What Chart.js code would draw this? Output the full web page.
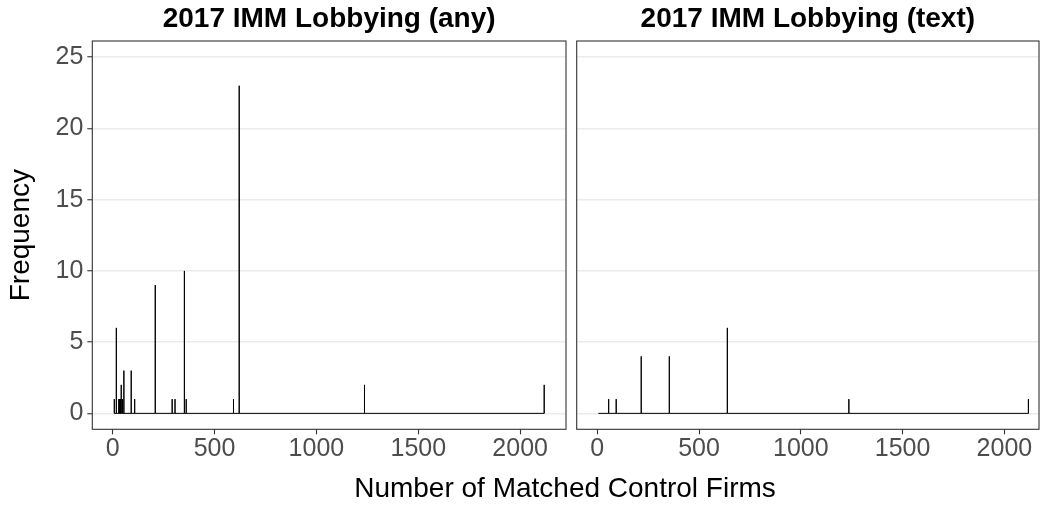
<!DOCTYPE html>
<html><head><meta charset="utf-8">
<script src="https://cdn.jsdelivr.net/npm/chart.js@4.4.0/dist/chart.umd.min.js"></script>
<style>
html,body{margin:0;padding:0;background:#fff;width:1041px;height:508px;overflow:hidden;position:relative;font-family:"Liberation Sans",Arial,sans-serif}
#c1{position:absolute;left:0;top:0}
#c2{position:absolute;left:571px;top:0}
#xt{position:absolute;left:0;width:1130px;top:472px;text-align:center;font-size:28px;line-height:32px;color:#000;white-space:nowrap}
</style></head><body>
<canvas id="c1" width="571" height="508"></canvas>
<canvas id="c2" width="470" height="508"></canvas>
<div id="xt">Number of Matched Control Firms</div>
<script>
// ---- data ----
const panelTitles = ["2017 IMM Lobbying (any)", "2017 IMM Lobbying (text)"];
const anyValues  = [8, 18, 30, 34, 38, 42, 46, 50, 55, 91, 108, 209, 292, 306, 352, 361, 593, 621, 1236, 2118];
const anyCounts  = [1, 6, 1, 1, 1, 2, 1, 1, 3, 3, 1, 9, 1, 1, 10, 1, 1, 23, 2, 2];
const anyRange   = [8, 2118];
const textValues = [56, 93, 216, 354, 639, 1236, 2118];
const textCounts = [1, 1, 4, 4, 6, 1, 1];
const textRange  = [5, 2118];
const xTicks = [0, 500, 1000, 1500, 2000];
const yTicks = [0, 5, 10, 15, 20, 25];
const yTitle = "Frequency";

const FONT = '"Liberation Sans", Arial, Helvetica, sans-serif';

function spikes(vals, counts, range) {
  const pts = [{x: range[0], y: 0}];
  vals.forEach((v, i) => { pts.push({x: v, y: 0}, {x: v, y: counts[i]}, {x: v, y: 0}); });
  pts.push({x: range[1], y: 0});
  return pts;
}

const borderPlugin = {
  id: 'panelBorder',
  afterDraw(chart) {
    const a = chart.chartArea, ctx = chart.ctx;
    ctx.save();
    ctx.strokeStyle = '#333333';
    ctx.lineWidth = 1.1;
    ctx.strokeRect(a.left, a.top, a.right - a.left, a.bottom - a.top);
    ctx.restore();
  }
};

function makeChart(id, title, pts, xmin, xmax, showY, pad) {
  return new Chart(document.getElementById(id), {
    type: 'line',
    data: { datasets: [{ data: pts, borderColor: '#000', borderWidth: 1, pointRadius: 0, tension: 0, fill: false }] },
    options: {
      responsive: false, animation: false,
      layout: { padding: pad },
      plugins: {
        legend: { display: false }, tooltip: { enabled: false },
        title: { display: true, text: title, fullSize: false, color: '#000',
          font: { family: FONT, size: 28, weight: 'bold', lineHeight: 1.2 },
          padding: { top: 2, bottom: 5.4 } }
      },
      scales: {
        x: {
          type: 'linear', min: xmin, max: xmax,
          afterBuildTicks(s) { s.ticks = xTicks.map(v => ({value: v})); },
          afterFit(s) { s.height = 40; },
          border: { display: false },
          grid: { drawOnChartArea: false, drawTicks: true, tickLength: 5, tickColor: '#333', tickWidth: 1.1 },
          ticks: { color: '#4d4d4d', font: { family: FONT, size: 25 }, padding: 0, maxRotation: 0, includeBounds: false,
                   callback: v => String(v) }
        },
        y: {
          type: 'linear', min: -1.12, max: 26.14,
          afterBuildTicks(s) { s.ticks = yTicks.map(v => ({value: v})); },
          afterFit(s) { s.width = showY ? 92.3 : 0; },
          border: { display: false },
          grid: { color: '#ebebeb', lineWidth: 1.5, drawTicks: showY, tickLength: 5, tickColor: '#333', tickWidth: 1.1 },
          ticks: { display: showY, color: '#4d4d4d', font: { family: FONT, size: 25 }, padding: 4, includeBounds: false,
                   callback: v => String(v) },
          title: { display: showY, text: yTitle, color: '#000', font: { family: FONT, size: 28, lineHeight: 1.2 }, padding: { top: 4, bottom: 0 } }
        }
      }
    },
    plugins: [borderPlugin]
  });
}

makeChart('c1', panelTitles[0], spikes(anyValues, anyCounts, anyRange), -100, 2225, true,
  { left: 0, right: 5, top: 0, bottom: 38.7 });
makeChart('c2', panelTitles[1], spikes(textValues, textCounts, textRange), -101, 2170, false,
  { left: 5.7, right: 2, top: 0, bottom: 38.7 });
</script>
</body></html>
